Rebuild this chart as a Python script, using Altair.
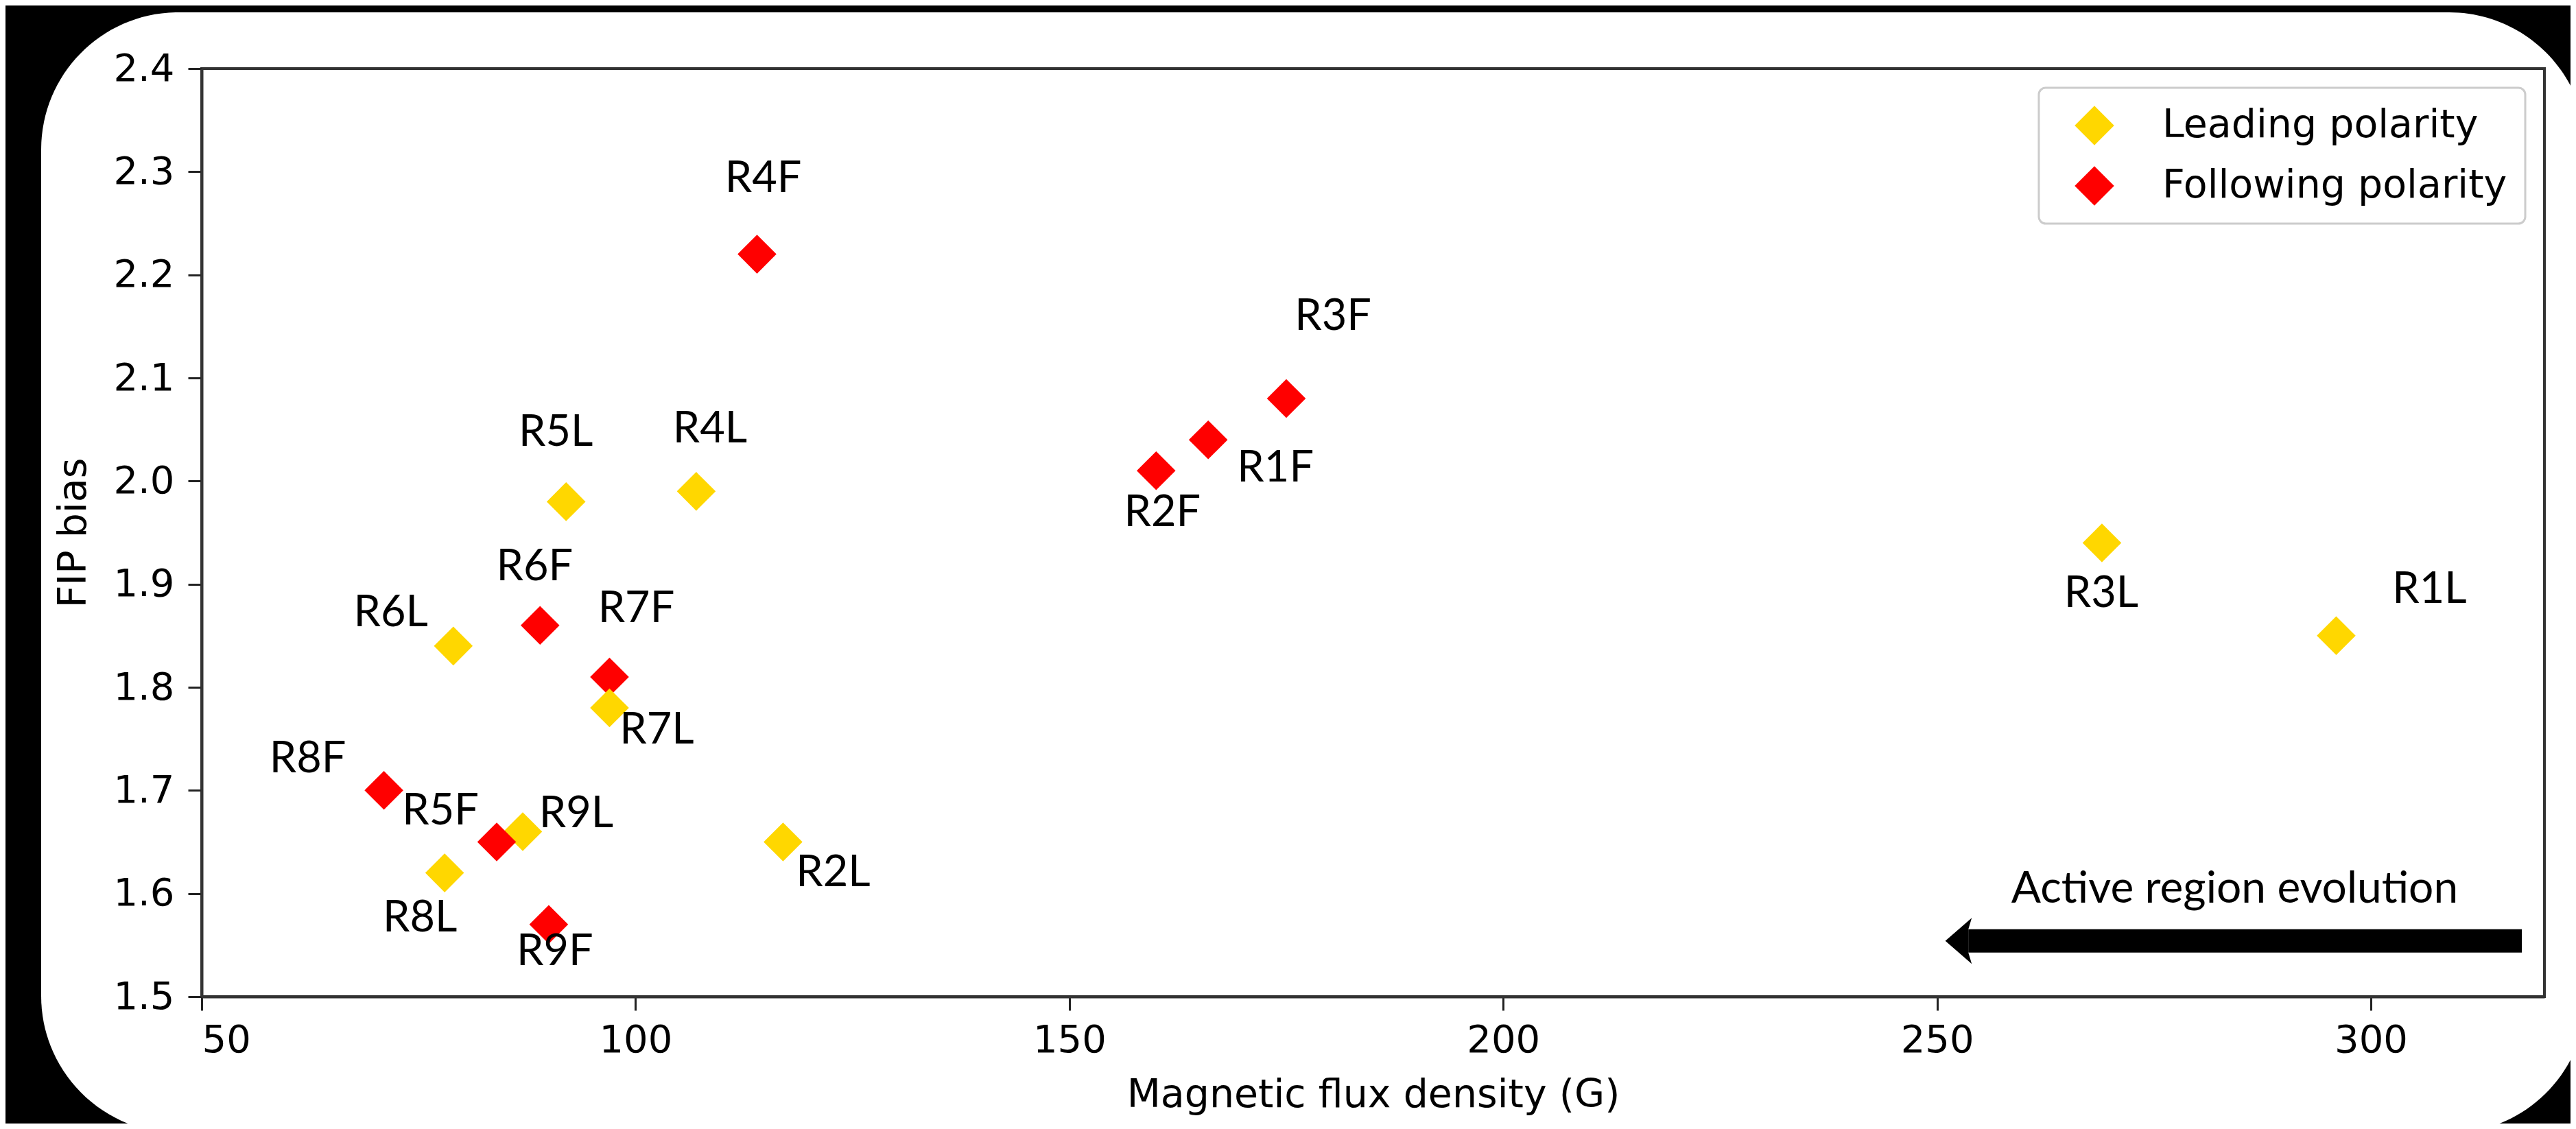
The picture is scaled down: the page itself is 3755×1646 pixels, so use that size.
import altair as alt
import pandas as pd

# ---- data ----
regions_L = ["R1L", "R2L", "R3L", "R4L", "R5L", "R6L", "R7L", "R8L", "R9L"]
flux_L = [296, 117, 269, 107, 92, 79, 97, 78, 87]
fip_L = [1.85, 1.65, 1.94, 1.99, 1.98, 1.84, 1.78, 1.62, 1.66]

regions_F = ["R1F", "R2F", "R3F", "R4F", "R5F", "R6F", "R7F", "R8F", "R9F"]
flux_F = [166, 160, 175, 114, 84, 89, 97, 71, 90]
fip_F = [2.04, 2.01, 2.08, 2.22, 1.65, 1.86, 1.81, 1.70, 1.57]

polarities = ["Leading polarity", "Following polarity"]
colors = ["#FFD700", "#FF0000"]

x_ticks = [50, 100, 150, 200, 250, 300]
y_ticks = [1.5, 1.6, 1.7, 1.8, 1.9, 2.0, 2.1, 2.2, 2.3, 2.4]
x_domain = [50, 320]
y_domain = [1.5, 2.4]

# label placement (pixel offsets of each label from its marker)
label_dx_L = [136, 73, -1, 20, -15, -91, 69, -36, 78]
label_dy_L = [-67, 45, 74, -90, -100, -48, 33, 66, -25]
label_dx_F = [98, 9, 68, 9, -82, -8, 39, -111, 9]
label_dy_F = [42, 62, -119, -110, -45, -85, -99, -45, 40]

# arrow annotation
arrow_start = [317.4]
arrow_end = [253.6]
arrow_level = [1.554]
annot_text = ["Active region evolution"]
annot_x = [284.3]
annot_y = [1.604]

# ---- build tables ----
rows = []
k = 0
for i in reversed(range(9)):
    rows.append(dict(region=regions_F[i], flux=flux_F[i], fip=fip_F[i],
                     polarity=polarities[1], dx=label_dx_F[i], dy=label_dy_F[i], draw=k))
    k += 1
    rows.append(dict(region=regions_L[i], flux=flux_L[i], fip=fip_L[i],
                     polarity=polarities[0], dx=label_dx_L[i], dy=label_dy_L[i], draw=k))
    k += 1
df = pd.DataFrame(rows)

W, H = 3415, 1353

x_enc = alt.X("flux:Q",
              scale=alt.Scale(domain=x_domain, nice=False, zero=False),
              axis=alt.Axis(values=x_ticks, format="d", title="Magnetic flux density (G)",
                            labelPadding=16, titlePadding=24, zindex=1))
y_enc = alt.Y("fip:Q",
              scale=alt.Scale(domain=y_domain, nice=False, zero=False),
              axis=alt.Axis(values=y_ticks, format=".1f", title="FIP bias",
                            labelPadding=20, titlePadding=28, zindex=1))

one = pd.DataFrame({"a": [0]})

# white rounded panel behind the figure
bg = alt.Chart(one).mark_rect(color="white", cornerRadius=200).encode(
    x=alt.value(-234), x2=alt.value(3476), y=alt.value(-82), y2=alt.value(1552))

# matplotlib-style box around the plot area
frame = alt.Chart(one).mark_rect(filled=False, stroke="#333333", strokeWidth=4).encode(
    x=alt.value(0), x2=alt.value(W), y=alt.value(0), y2=alt.value(H))

points = alt.Chart(df).mark_point(shape="diamond", filled=True, size=3200,
                                  opacity=1, strokeWidth=0).encode(
    x=x_enc, y=y_enc,
    color=alt.Color("polarity:N",
                    scale=alt.Scale(domain=polarities, range=colors),
                    legend=alt.Legend(title=None, orient="top-right", offset=28,
                                      fillColor="white", strokeColor="#cccccc",
                                      cornerRadius=10, padding=26,
                                      symbolType="diamond", symbolSize=3300,
                                      symbolOffset=26, symbolStrokeWidth=0,
                                      labelFont="DejaVu Sans", labelFontSize=57,
                                      labelColor="black", labelOffset=70,
                                      labelLimit=1000, rowPadding=30, zindex=1)),
    order=alt.Order("draw:Q"))

texts = []
for _, r in df.iterrows():
    texts.append(
        alt.Chart(df).transform_filter(alt.datum.region == r["region"]).mark_text(
            dx=int(r["dx"]), dy=int(r["dy"]), font="Lato", fontSize=63,
            align="center", baseline="middle", color="black").encode(
            x=x_enc, y=y_enc, text="region:N"))

arrow_df = pd.DataFrame({"flux": arrow_start, "flux2": arrow_end, "fip": arrow_level})
shaft = alt.Chart(arrow_df).mark_rule(strokeWidth=34, strokeCap="butt", color="black").encode(
    x=x_enc, x2="flux2:Q", y=y_enc)
head_df = pd.DataFrame({"flux": arrow_end, "fip": arrow_level})
head = alt.Chart(head_df).mark_point(shape="M-1,0L0.15,-1L0,-0.5L0,0.5L0.15,1Z",
                                     filled=True, size=4489, color="black",
                                     opacity=1, strokeWidth=0).encode(x=x_enc, y=y_enc)

annot_df = pd.DataFrame({"flux": annot_x, "fip": annot_y, "t": annot_text})
annot = alt.Chart(annot_df).mark_text(font="Lato", fontSize=64, align="center",
                                      baseline="middle", color="black").encode(
    x=x_enc, y=y_enc, text="t:N")

chart = alt.layer(bg, frame, points, *texts, shaft, head, annot).properties(
    width=W, height=H, background="black",
    padding={"left": 286, "top": 92, "right": 38, "bottom": 185},
    autosize=alt.AutoSizeParams(type="none"),
).configure_axis(
    grid=False, domainColor="#333333", domainWidth=4, tickColor="#222222",
    tickWidth=3, tickSize=20, labelFont="DejaVu Sans", labelFontSize=56,
    labelColor="black", titleFont="DejaVu Sans", titleFontSize=57,
    titleFontWeight="normal", titleColor="black",
).configure_legend(strokeWidth=3).configure_view(stroke=None)

chart.save("out.html", embed_options={"renderer": "svg", "actions": False})
